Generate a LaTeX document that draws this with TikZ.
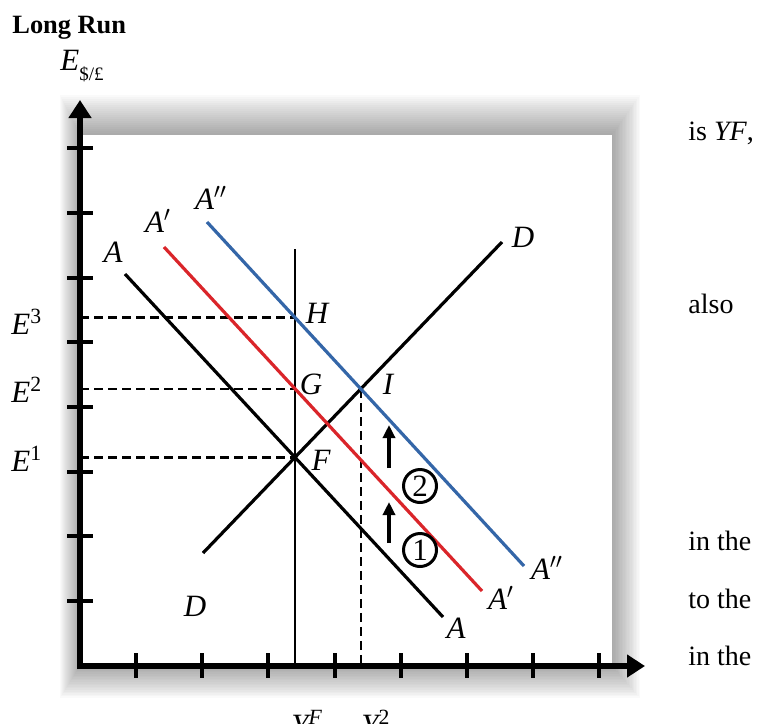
\documentclass[tikz,border=0pt]{standalone}
\usepackage{fontspec}
\setmainfont{Liberation Serif}
\usetikzlibrary{arrows.meta,positioning}
\definecolor{lineRed}{RGB}{218,37,42}
\definecolor{lineBlue}{RGB}{52,102,168}

\begin{document}
\begin{tikzpicture}[x=0.5pt, y=-0.5pt,
  axis/.style={line width=3pt, -{Triangle[length=9pt,width=11pt]}},
  tick/.style={line width=2pt},
  curve/.style={line width=1.6pt},
  guide/.style={line width=1.2pt, dash pattern=on 4.5pt off 2.5pt},
  lab/.style={font=\fontsize{15.5}{15.5}\selectfont\itshape, inner sep=0pt},
  side/.style={font=\fontsize{14}{14}\selectfont, anchor=base west, inner sep=0pt},
  uparrow/.style={line width=2pt, -{Triangle[length=6.5pt,width=6pt]}},
  num/.style={draw, circle, line width=1.5pt, minimum size=16.5pt, inner sep=0pt, font=\fontsize{15.5}{15.5}\selectfont}
]
\useasboundingbox (0,0) rectangle (763,723);
\foreach \k in {1,...,20}
  \fill[black, opacity=0.018] ({80-1*\k},{135-2*\k}) rectangle ({612+1.4*\k},{666+1.6*\k});
\fill[white] (80,135) rectangle (612,666);

\node[anchor=base west, inner sep=0pt, font=\fontsize{13.2}{13.2}\selectfont\bfseries] (title) at (12,33) {Long Run};
\node[anchor=base west, inner sep=0pt] (ylab) at (60,70) {\fontsize{15.5}{15.5}\selectfont\itshape E\raisebox{-5pt}{\fontsize{9.5}{9.5}\selectfont\upshape\$/£}};

\coordinate (O) at (80,666);
\coordinate (Ytop) at (80,100);
\coordinate (Xend) at (645,666);
\foreach \t in {0,...,7}
  \draw[tick] (67,{601-64.7*\t}) -- (93,{601-64.7*\t});
\foreach \t in {0,...,7}
  \draw[tick] ({136+66.2*\t},653) -- ({136+66.2*\t},678);
\draw[axis] ([yshift=-1.5pt]O) -- (Ytop);
\draw[axis] ([xshift=-1.5pt]O) -- (Xend);

\coordinate (Aa) at (125,274); \coordinate (Ab) at (443,617);
\coordinate (Pa) at (164,247); \coordinate (Pb) at (482,591);
\coordinate (Qa) at (207,222); \coordinate (Qb) at (524,566);
\coordinate (Da) at (203,553); \coordinate (Db) at (502,242);
\coordinate (Va) at (295,249); \coordinate (Vb) at (295,666);
\coordinate (F) at (intersection of Aa--Ab and Va--Vb);
\coordinate (G) at (intersection of Pa--Pb and Va--Vb);
\coordinate (H) at (intersection of Qa--Qb and Va--Vb);
\coordinate (I) at (intersection of Qa--Qb and Da--Db);

\draw[guide] (F -| O) -- (F);
\draw[guide] (G -| O) -- (G);
\draw[guide] (H -| O) -- (H);
\draw[guide] (I) -- (I |- O);
\draw[line width=1pt] (Va) -- (Vb);
\draw[curve] (Da) -- (Db);
\draw[curve] (Aa) -- (Ab);
\draw[curve, lineRed] (Pa) -- (Pb);
\draw[curve, lineBlue] (Qa) -- (Qb);

\coordinate (s1a) at (389,543); \coordinate (s1b) at (389,502);
\coordinate (s2a) at (389,468); \coordinate (s2b) at (389,425);
\draw[uparrow] (s1a) -- (s1b);
\draw[uparrow] (s2a) -- (s2b);
\node[num] (n1) at (420,550) {1};
\node[num] (n2) at (420,486) {2};

\node[lab] (lA) at (113,252) {A};
\node[lab] (lP) at (158,221) {A$'$};
\node[lab] (lQ) at (211,198) {A$''$};
\node[lab] (lD) at (523,237) {D};
\node[lab] (lH) at (317,313) {H};
\node[lab] (lG) at (311,384) {G};
\node[lab] (lI) at (388,384) {I};
\node[lab] (lF) at (321,460) {F};
\node[lab] (lD2) at (195,606) {D};
\node[lab] (lQ2) at (547,568) {A$''$};
\node[lab] (lP2) at (501,598) {A$'$};
\node[lab] (lA2) at (456,628) {A};

\node[lab, anchor=west] (e3) at (11,322) {E\textsuperscript{\upshape 3}};
\node[lab, anchor=west] (e2) at (11,390) {E\textsuperscript{\upshape 2}};
\node[lab, anchor=west] (e1) at (11,459) {E\textsuperscript{\upshape 1}};
\node[lab, anchor=north west] (yf) at (291,710) {Y\textsuperscript{F}};
\node[lab, anchor=north west] (y2) at (361,710) {Y\textsuperscript{\upshape 2}};

\node[side] (t1) at (688,140) {is \textit{YF},};
\node[side] (t2) at (688,313) {also};
\node[side] (t3) at (688,550) {in the};
\node[side] (t4) at (688,608) {to the};
\node[side] (t5) at (688,665) {in the};
\end{tikzpicture}
\end{document}
